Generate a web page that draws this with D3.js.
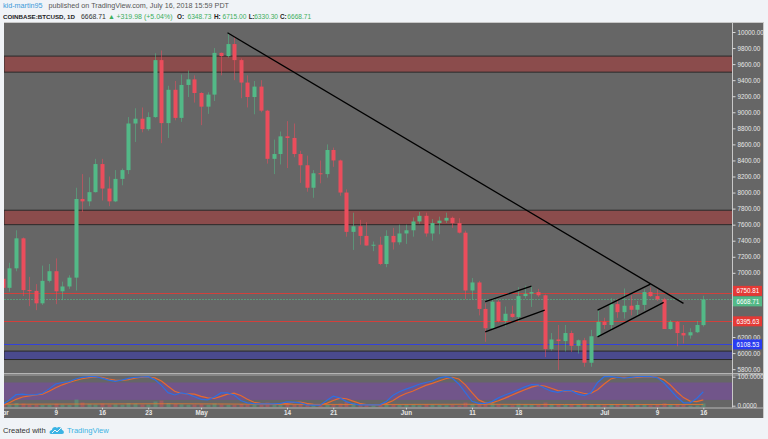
<!DOCTYPE html>
<html>
<head>
<meta charset="utf-8">
<style>
body { margin: 0; background: #f0f3f7; }
svg { display: block; font-family: "Liberation Sans", Arial, sans-serif; }
.axis text { fill: #e8e8e8; }
.axis line { stroke: #d8d8d8; }
</style>
</head>
<body>
<svg id="chart" width="768" height="439"></svg>
<script src="https://d3js.org/d3.v7.min.js"></script>
<script>
// daily candles from 2018-04-01 to 2018-07-16 (COINBASE:BTCUSD 1D)
var firstDay = "2018-04-01";

var opens = [
  6926,6813,7056,7430,6785,6775,6620,6900,7020,6770, 6830,6940,7920,7890,8005,8355,8050,7890,8170,8280,
  8860,8920,8790,8940,9650,8865,9280,8930,9340,9410,
  9240,9070,9220,9740,9700,9850,9650,9370,9190,9320, 9020,8420,8480,8700,8680,8480,8340,8060,8240,8230,
  8530,8400,8000,7510,7580,7460,7340,7350,7110,7460,7380,
  7490,7530,7640,7710,7490,7620,7650,7685,7620,7500, 6780,6880,6550,6310,6640,6400,6490,6450,6710,6740,
  6760,6720,6050,6170,6150,6250,6090,6160,5880,6210,
  6390,6350,6610,6510,6590,6540,6600,6760,6710,6670, 6300,6390,6250,6220,6260,6348.73
];
var highs = [
  7049,7125,7530,7440,6950,6860,7090,7110,7180,6890, 6970,8060,8230,8190,8420,8420,8200,8280,8300,8940,
  9050,9060,9000,9735,9770,9330,9390,9470,9520,9460,
  9250,9250,9800,9745,9990,9940,9670,9460,9390,9400, 9030,8660,8760,8890,8860,8520,8460,8280,8400,8600,
  8560,8410,8040,7750,7660,7630,7390,7450,7530,7560,7600,
  7600,7690,7760,7750,7670,7700,7750,7700,7680,7525, 6935,6900,6620,6685,6660,6580,6590,6820,6840,6835,
  6800,6730,6250,6350,6350,6280,6170,6190,6290,6540,
  6440,6685,6680,6805,6720,6650,6795,6820,6795,6690, 6410,6400,6350,6310,6400,6715
];
var lows = [
  6430,6765,7020,6710,6585,6535,6600,6880,6610,6660, 6800,6780,7760,7830,8000,7900,7830,7880,8090,8230,
  8630,8750,8770,8930,8615,8680,8900,8880,9190,9120,
  8840,8980,9140,9460,9680,9400,9175,9060,8975,9000, 8360,8230,8350,8305,8440,8120,8010,7935,8115,8185,
  8320,7960,7450,7285,7350,7340,7270,7095,7070,7290,7350,
  7360,7450,7610,7450,7400,7480,7620,7560,7490,6670, 6670,6470,6140,6300,6380,6330,6440,6390,6680,6575,
  6700,5950,6030,5790,6020,6015,5995,5830,5830,6200,
  6300,6280,6440,6430,6470,6450,6530,6700,6650,6300, 6290,6085,6120,6180,6250,6330.30
];
var closes = [
  6813,7056,7430,6785,6775,6620,6900,7020,6770,6830, 6940,7920,7890,8005,8355,8050,7890,8170,8280,8860,
  8920,8790,8940,9650,8865,9280,8930,9340,9410,9240,
  9070,9220,9740,9700,9850,9650,9370,9190,9320,9020, 8420,8480,8700,8680,8480,8340,8060,8240,8230,8530,
  8400,8000,7510,7580,7460,7340,7350,7110,7460,7380,7490,
  7530,7640,7710,7490,7620,7650,7685,7620,7500,6780, 6880,6550,6310,6640,6400,6490,6450,6710,6740,6760,
  6720,6050,6170,6150,6250,6090,6160,5880,6210,6390,
  6350,6610,6510,6590,6540,6600,6760,6710,6670,6300, 6390,6250,6220,6260,6350,6668.71
];
var volumes = [
  12,10,16,14,10,9,8,9,13,9, 8,30,18,12,10,14,10,11,9,16, 14,10,10,22,26,16,12,11,9,10,
  11,9,14,10,9,9,12,10,10,11, 18,14,8,12,10,11,12,10,7,8, 9,14,20,16,11,8,7,12,12,9,9,
  9,9,7,10,9,8,7,8,6,18, 12,14,20,16,11,7,7,13,10,9, 8,18,12,11,10,10,9,14,12,9,
  7,11,10,9,8,8,9,7,8,15, 9,11,8,5,6,14
];
var volAvgDays = [0, 12, 25, 40, 55, 70, 85, 100, 106];
var volAvgVals = [11, 12, 13, 11, 10, 11, 10, 10, 10];

// stochastic RSI (%K blue, %D orange)
var stochK = [
  5,20,38,40,37,38,43,58,75,80, 83,92,98,100,100,95,88,84,88,94, 98,99,100,90,70,45,37,44,40,31,
  22,20,30,44,44,37,18,10,7,6, 6,6,8,13,12,10,3,2,2,18, 33,27,14,6,3,3,3,3,14,35,
  48,57,65,74,80,85,96,100,95,75, 45,15,8,8,14,27,37,45,55,65, 73,72,60,50,46,52,52,40,35,45,
  80,100,100,98,95,98,100,100,100,97, 80,55,30,10,10,25,48
];
var stochD = [
  2,10,22,30,34,37,40,50,62,72, 80,87,93,97,99,98,92,88,87,90, 95,98,99,96,85,67,50,42,41,40,
  32,27,25,32,40,43,35,22,12,8, 6,5,6,8,11,12,8,5,3,8, 18,26,24,16,8,4,3,3,7,17,
  32,42,50,60,70,77,85,93,98,92, 72,45,20,10,10,17,26,36,46,55, 64,70,68,60,52,50,52,48,42,43,
  55,75,92,98,98,97,98,99,100,98, 90,72,48,28,16,14,20
];

var priceTicks = [5800,6000,6200,6400,6600,6800,7000,7200,7400,7600,7800,8000,
                  8200,8400,8600,8800,9000,9200,9400,9600,9800,10000];
var indTicks = [0, 100];
var dateTicks = ["2018-04-01","2018-04-09","2018-04-16","2018-04-23","2018-05-01","2018-05-14",
                 "2018-05-21","2018-06-01","2018-06-11","2018-06-18","2018-07-01","2018-07-09","2018-07-16"];
var dateTickLabels = ["Apr","9","16","23","May","14","21","Jun","11","18","Jul","9","16"];

// rectangles drawn on the chart
var zoneLow  = [9500, 7600, 5920];
var zoneHigh = [9700, 7780, 6025];
// horizontal levels with price labels
var levelPrices = [6750.81, 6668.71, 6395.63, 6108.53];
// trend lines: start date/price, end date/price
var lineStartDate  = ["2018-05-05","2018-06-13","2018-06-13","2018-06-30","2018-06-30"];
var lineStartPrice = [9990, 6640, 6265, 6536, 6203];
var lineEndDate    = ["2018-07-13","2018-06-20","2018-06-22","2018-07-08","2018-07-10"];
var lineEndPrice   = [6620, 6835, 6536, 6860, 6632];

// ---------------------------------------------------------------
var svg = d3.select("#chart");
var parse = d3.utcParse("%Y-%m-%d");
var GREEN = "#53b987", RED = "#eb4d5c";
var zoneFill = ["#8b4c4c", "#8b4c4c", "#4a4a8e"];
var levelColor = ["#e53935", "#53b987", "#e53935", "#2a3cf0"];
var levelDash = [null, "2,1", null, null];

var left = 4, paneRight = 732.5, frameRight = 764;
var mainTop = 23, mainBottom = 373, indTop = 376, indBottom = 407.5, axisBottom = 418;

var day0 = parse(firstDay);
var days = opens.map(function(d, i) { return d3.utcDay.offset(day0, i); });

var x = d3.scaleUtc()
    .domain([parse("2018-04-09"), parse("2018-07-16")])
    .range([55.7, 703.3]);
var y = d3.scaleLinear().domain([6000, 10000]).range([353.1, 32]);
var yInd = d3.scaleLinear().domain([0, 100]).range([405.7, 376.7]);
var yVol = d3.scaleLinear().domain([0, 40]).range([407, 397]);

// background
svg.append("rect").attr("width", 768).attr("height", 439).attr("fill", "#f0f3f7");
svg.append("rect").attr("x", left).attr("y", mainTop)
   .attr("width", frameRight - left).attr("height", axisBottom - mainTop).attr("fill", "#666666");

var defs = svg.append("defs");
defs.append("clipPath").attr("id", "clipMain").append("rect")
    .attr("x", left).attr("y", mainTop).attr("width", paneRight - left).attr("height", mainBottom - mainTop);
defs.append("clipPath").attr("id", "clipInd").append("rect")
    .attr("x", left).attr("y", indTop).attr("width", paneRight - left).attr("height", indBottom - indTop);
defs.append("clipPath").attr("id", "clipX").append("rect")
    .attr("x", left).attr("y", indBottom).attr("width", paneRight - left).attr("height", axisBottom - indBottom);

var main = svg.append("g").attr("clip-path", "url(#clipMain)");

// zones
main.selectAll(".zone").data(zoneLow).enter().append("rect")
    .attr("x", left).attr("width", paneRight - left)
    .attr("y", function(d, i) { return y(zoneHigh[i]); })
    .attr("height", function(d, i) { return y(d) - y(zoneHigh[i]); })
    .attr("fill", function(d, i) { return zoneFill[i]; })
    .attr("stroke", "#2a2a2a").attr("stroke-width", 1);

// level lines
main.selectAll(".lvl").data(levelPrices).enter().append("line")
    .attr("x1", left).attr("x2", paneRight)
    .attr("y1", function(d) { return Math.round(y(d)) + 0.5; })
    .attr("y2", function(d) { return Math.round(y(d)) + 0.5; })
    .attr("stroke", function(d, i) { return levelColor[i]; })
    .attr("stroke-opacity", function(d, i) { return i == 1 ? 0.6 : 0.85; })
    .attr("stroke-dasharray", function(d, i) { return levelDash[i]; })
    .attr("stroke-width", 1);

// candles
var candle = main.selectAll(".candle").data(days).enter().append("g");
candle.append("line")
    .attr("x1", function(d) { return Math.round(x(d)) + 0.5; })
    .attr("x2", function(d) { return Math.round(x(d)) + 0.5; })
    .attr("y1", function(d, i) { return y(highs[i]); })
    .attr("y2", function(d, i) { return y(lows[i]); })
    .attr("stroke", function(d, i) { return closes[i] >= opens[i] ? GREEN : RED; })
    .attr("stroke-opacity", 0.55);
candle.append("rect")
    .attr("x", function(d) { return Math.round(x(d)) - 1.5; })
    .attr("width", 4)
    .attr("y", function(d, i) { return y(Math.max(opens[i], closes[i])); })
    .attr("height", function(d, i) { return Math.max(1, Math.abs(y(opens[i]) - y(closes[i]))); })
    .attr("fill", function(d, i) { return closes[i] >= opens[i] ? GREEN : RED; });

// trend lines
main.selectAll(".trend").data(lineStartDate).enter().append("line")
    .attr("x1", function(d) { return x(parse(d)); })
    .attr("y1", function(d, i) { return y(lineStartPrice[i]); })
    .attr("x2", function(d, i) { return x(parse(lineEndDate[i])); })
    .attr("y2", function(d, i) { return y(lineEndPrice[i]); })
    .attr("stroke", "#000").attr("stroke-width", 1.3);

// indicator pane
var ind = svg.append("g").attr("clip-path", "url(#clipInd)");
ind.append("rect").attr("x", left).attr("width", paneRight - left)
   .attr("y", yInd(80)).attr("height", yInd(20) - yInd(80)).attr("fill", "#71558a");
ind.selectAll(".vol").data(days).enter().append("rect")
   .attr("x", function(d) { return Math.round(x(d)) - 1.5; })
   .attr("width", 4)
   .attr("y", function(d, i) { return yVol(volumes[i]); })
   .attr("height", function(d, i) { return yVol(0) - yVol(volumes[i]); })
   .attr("fill", function(d, i) { return closes[i] >= opens[i] ? GREEN : RED; })
   .attr("fill-opacity", 0.4);
ind.append("path")
   .datum(volAvgDays)
   .attr("fill", "none").attr("stroke", "#e8792d").attr("stroke-width", 1).attr("stroke-opacity", 0.8)
   .attr("d", d3.line()
      .x(function(d) { return x(days[d]); })
      .y(function(d, i) { return yVol(volAvgVals[i]); })
      .curve(d3.curveMonotoneX));
var stochLine = function(arr) {
  return d3.line().x(function(d) { return x(d); })
    .y(function(d, i) { return yInd(arr[i]); });
};
ind.append("path").datum(days).attr("fill", "none")
   .attr("stroke", "#e8692d").attr("stroke-width", 1.2).attr("d", stochLine(stochD));
ind.append("path").datum(days).attr("fill", "none")
   .attr("stroke", "#2f6fe0").attr("stroke-width", 1.2).attr("d", stochLine(stochK));

// frame lines
svg.append("line").attr("x1", left).attr("x2", frameRight).attr("y1", mainTop - 0.5).attr("y2", mainTop - 0.5)
   .attr("stroke", "#c8c8c8");
svg.append("rect").attr("x", left).attr("y", mainBottom).attr("width", frameRight - left).attr("height", indTop - mainBottom)
   .attr("fill", "#5a5a5a");
svg.append("line").attr("x1", left).attr("x2", frameRight).attr("y1", mainBottom + 0.5).attr("y2", mainBottom + 0.5)
   .attr("stroke", "#b4b4b4");
svg.append("line").attr("x1", left).attr("x2", frameRight).attr("y1", indTop - 1).attr("y2", indTop - 1)
   .attr("stroke", "#b4b4b4");
svg.append("line").attr("x1", left).attr("x2", frameRight).attr("y1", indBottom + 0.5).attr("y2", indBottom + 0.5)
   .attr("stroke", "#b8b8b8");
svg.append("line").attr("x1", paneRight).attr("x2", paneRight).attr("y1", mainTop).attr("y2", indBottom)
   .attr("stroke", "#c8c8c8");
svg.append("line").attr("x1", frameRight - 0.5).attr("x2", frameRight - 0.5).attr("y1", mainTop).attr("y2", axisBottom)
   .attr("stroke", "#c8c8c8");

// price labels for levels (pushed apart when they overlap)
var labelY = levelPrices.map(function(p) { return y(p); });
for (var k = 0; k < labelY.length - 1; k++) {
  var gap = labelY[k + 1] - labelY[k];
  if (gap < 10.5) { labelY[k] -= (10.5 - gap) / 2; labelY[k + 1] += (10.5 - gap) / 2; }
}

// price axis (tick labels under a level label are hidden, as in the original)
var gy = svg.append("g").attr("class", "axis")
    .attr("transform", "translate(" + paneRight + ",0)")
    .call(d3.axisRight(y).tickValues(priceTicks).tickFormat(d3.format(".2f")).tickSize(3).tickPadding(2));
gy.select(".domain").remove();
gy.attr("font-size", 6.3).attr("font-family", "Liberation Sans, Arial, sans-serif");
gy.selectAll(".tick").filter(function(d) {
  return labelY.some(function(ly) { return Math.abs(ly - y(d)) < 7; });
}).select("text").remove();

var gi = svg.append("g").attr("class", "axis")
    .attr("transform", "translate(" + paneRight + ",0)")
    .call(d3.axisRight(yInd).tickValues(indTicks).tickFormat(d3.format(".4f")).tickSize(3).tickPadding(2));
gi.select(".domain").remove();
gi.attr("font-size", 6.3).attr("font-family", "Liberation Sans, Arial, sans-serif");

var lab = svg.selectAll(".plab").data(levelPrices).enter().append("g")
    .attr("transform", function(d, i) { return "translate(" + (paneRight + 0.5) + "," + labelY[i] + ")"; });
lab.append("rect").attr("x", 0).attr("y", -5).attr("width", 29).attr("height", 10)
   .attr("fill", function(d, i) { return levelColor[i]; });
lab.append("text").attr("x", 3.5).attr("y", 2.3).attr("font-size", 6.3).attr("fill", "#fff")
   .text(function(d) { return d3.format(".2f")(d); });

// time axis
var gx = svg.append("g").attr("class", "axis").attr("clip-path", "url(#clipX)")
    .append("g").attr("transform", "translate(0," + indBottom + ")")
    .call(d3.axisBottom(x).tickValues(dateTicks.map(parse))
      .tickFormat(function(d, i) { return dateTickLabels[i]; }).tickSize(2).tickPadding(1.5));
gx.select(".domain").remove();
gx.attr("font-size", 6.3).attr("font-family", "Liberation Sans, Arial, sans-serif").attr("font-weight", "bold");

// header
var h1 = svg.append("text").attr("y", 8).attr("font-size", 7.2);
h1.append("tspan").attr("x", 3).attr("fill", "#3a9ad9").text("kid-martin95");
h1.append("tspan").attr("x", 48.5).attr("fill", "#555").text("published on TradingView.com, July 16, 2018 15:59 PDT");

var h2 = svg.append("text").attr("y", 18.5).attr("fill", "#333");
var parts = [
  [3, "COINBASE:BTCUSD, 1D", "#222", "bold", 6.2],
  [81, "6668.71", "#333", "normal", 6.9],
  [108, "\u25B2", "#3cae5c", "normal", 7],
  [116.5, "+319.98 (+5.04%)", "#3cae5c", "normal", 7],
  [177, "O:", "#222", "bold", 6.4], [187.5, "6348.73", "#3cae5c", "normal", 6.6],
  [214, "H:", "#222", "bold", 6.4], [222.5, "6715.00", "#3cae5c", "normal", 6.6],
  [248.7, "L:", "#222", "bold", 6.4], [254.2, "6330.30", "#3cae5c", "normal", 6.6],
  [280, "C:", "#222", "bold", 6.4], [287.3, "6668.71", "#3cae5c", "normal", 6.6]
];
parts.forEach(function(p) {
  h2.append("tspan").attr("x", p[0]).attr("fill", p[2]).attr("font-weight", p[3])
    .attr("font-size", p[4]).text(p[1]);
});

// footer
svg.append("text").attr("x", 3).attr("y", 433).attr("font-size", 7.6).attr("fill", "#333").text("Created with");
var logo = svg.append("g").attr("transform", "translate(50,425)");
logo.append("path")
    .attr("d", "M1,9 C-1,9 -1,5 2,5 C2,2 6,1 7,3 C8,1 12,2 12,5 C14,5 15,9 12,9 Z")
    .attr("fill", "#3bb3e4");
logo.append("path").attr("d", "M2,8 L5,5 L7,7 L11,3").attr("fill", "none")
    .attr("stroke", "#f0f3f7").attr("stroke-width", 1);
svg.append("text").attr("x", 67).attr("y", 433).attr("font-size", 7.6).attr("fill", "#3bb3e4").text("TradingView");
</script>
</body>
</html>
